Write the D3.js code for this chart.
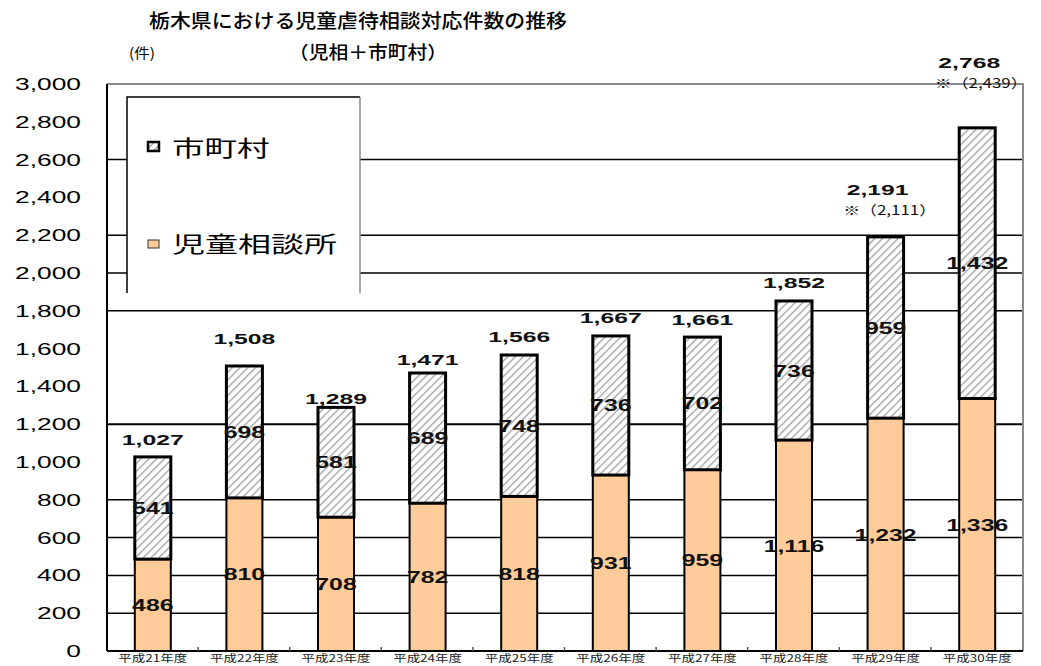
<!DOCTYPE html>
<html>
<head>
<meta charset="utf-8">
<script src="https://cdn.jsdelivr.net/npm/d3@7"></script>
<style>
  body { margin: 0; background: #fff; }
  svg { display: block; }
</style>
</head>
<body>
<div id="chart"></div>
<script>
// Fiscal years (Heisei 21-30)
const years = ["平成21年度", "平成22年度", "平成23年度", "平成24年度", "平成25年度",
               "平成26年度", "平成27年度", "平成28年度", "平成29年度", "平成30年度"];
// 児童相談所 (bottom segment)
const jisou = [486, 810, 708, 782, 818, 931, 959, 1116, 1232, 1336];
// 市町村 (top segment)
const shichoson = [541, 698, 581, 689, 748, 736, 702, 736, 959, 1432];
// totals shown above the bars
const totals = [1027, 1508, 1289, 1471, 1566, 1667, 1661, 1852, 2191, 2768];
// notes under some totals
const notes = ["", "", "", "", "", "", "", "", "※（2,111）", "※（2,439）"];
const yTicks = d3.range(0, 3001, 200);
const gridValues = [200, 400, 600, 800, 1200, 1800, 2000, 2200, 2600];

// gap (px) between bar top and total label, labels were hand placed in the original
const totalGap = [17, 27, 8, 13, 18, 18, 17, 18, 47, 65];

const width = 1041, height = 666;
const plot = { left: 107, right: 1023, top: 84, bottom: 651 };

const svg = d3.select("#chart").append("svg")
  .attr("width", width)
  .attr("height", height);

const defs = svg.append("defs");
const hatch = defs.append("pattern")
  .attr("id", "hatch")
  .attr("patternUnits", "userSpaceOnUse")
  .attr("width", 5.5)
  .attr("height", 5.5)
  .attr("patternTransform", "rotate(45)");
hatch.append("rect").attr("width", 5.5).attr("height", 5.5).attr("fill", "#fff");
hatch.append("line")
  .attr("x1", 0).attr("y1", 0).attr("x2", 0).attr("y2", 5.5)
  .attr("stroke", "#a0a0a0").attr("stroke-width", 2.6);

const x = d3.scaleBand()
  .domain(years)
  .range([plot.left, plot.right])
  .paddingInner(0.607)
  .paddingOuter(0.3035);

const y = d3.scaleLinear()
  .domain([0, 3000])
  .range([plot.bottom, plot.top]);

const numFont = "'Liberation Sans', Arial, sans-serif";
const jpFont = "'Noto Sans CJK JP', 'Noto Sans', sans-serif";
const fmt = d3.format(",");

// stretched text helper (the original is wider than the font)
function stext(g, tx, ty, sx, str) {
  return g.append("text")
    .attr("transform", `translate(${tx},${ty}) scale(${sx},1)`)
    .text(str);
}

// gridlines
svg.append("g")
  .selectAll("line")
  .data(gridValues)
  .join("line")
  .attr("x1", plot.left).attr("x2", plot.right)
  .attr("y1", d => y(d)).attr("y2", d => y(d))
  .attr("stroke", "#000")
  .attr("stroke-width", d => d === 1200 ? 2 : 1.5);

// top and right border (gray)
svg.append("path")
  .attr("d", `M${plot.left},${y(3000)}H${plot.right}V${plot.bottom}`)
  .attr("fill", "none")
  .attr("stroke", "#8a8a8a")
  .attr("stroke-width", 2);

// legend box
const legend = svg.append("g");
legend.append("rect")
  .attr("x", 127).attr("y", 97).attr("width", 233).attr("height", 196)
  .attr("fill", "#fff");
legend.append("path")
  .attr("d", "M127,293V97H360")
  .attr("fill", "none").attr("stroke", "#000").attr("stroke-width", 1.5);
legend.append("path")
  .attr("d", "M360,97V293")
  .attr("fill", "none").attr("stroke", "#8a8a8a").attr("stroke-width", 1.5);
legend.append("rect")
  .attr("x", 148).attr("y", 142).attr("width", 11).attr("height", 9)
  .attr("fill", "url(#hatch)").attr("stroke", "#000").attr("stroke-width", 2.5);
legend.append("rect")
  .attr("x", 148).attr("y", 240).attr("width", 11).attr("height", 8)
  .attr("fill", "#ffcc99").attr("stroke", "#333").attr("stroke-width", 1);
const legText = legend.append("g")
  .attr("font-family", jpFont)
  .attr("font-size", 22)
  .attr("fill", "#000");
stext(legText, 172, 156, 1.48, "市町村");
stext(legText, 172, 252, 1.5, "児童相談所");

// bars
const bars = svg.append("g");
bars.selectAll("rect.jisou")
  .data(years)
  .join("rect")
  .attr("class", "jisou")
  .attr("x", d => x(d))
  .attr("width", x.bandwidth())
  .attr("y", (d, i) => y(jisou[i]))
  .attr("height", (d, i) => y(0) - y(jisou[i]))
  .attr("fill", "#ffcc99")
  .attr("stroke", "#000")
  .attr("stroke-width", 2);

bars.selectAll("rect.shi")
  .data(years)
  .join("rect")
  .attr("class", "shi")
  .attr("x", d => x(d))
  .attr("width", x.bandwidth())
  .attr("y", (d, i) => y(jisou[i] + shichoson[i]))
  .attr("height", (d, i) => y(jisou[i]) - y(jisou[i] + shichoson[i]))
  .attr("fill", "url(#hatch)")
  .attr("stroke", "#000")
  .attr("stroke-width", 3);

// axes lines
svg.append("line")
  .attr("x1", plot.left).attr("x2", plot.left)
  .attr("y1", plot.top).attr("y2", plot.bottom)
  .attr("stroke", "#000").attr("stroke-width", 2);

const xAxis = svg.append("g")
  .attr("transform", `translate(0,${plot.bottom})`);
xAxis.append("line")
  .attr("x1", plot.left).attr("x2", plot.right)
  .attr("stroke", "#000").attr("stroke-width", 2);
xAxis.selectAll("line.tick")
  .data(years.slice(1))
  .join("line")
  .attr("class", "tick")
  .attr("x1", d => x(d) - x.step() * x.paddingInner() / 2 - 0.5)
  .attr("x2", d => x(d) - x.step() * x.paddingInner() / 2 - 0.5)
  .attr("y1", 0).attr("y2", -4)
  .attr("stroke", "#555").attr("stroke-width", 1.5);

// year labels, kept small so they fit above the bottom edge
const xLabels = xAxis.append("g")
  .attr("font-family", jpFont)
  .attr("font-size", 10)
  .attr("fill", "#222")
  .attr("text-anchor", "middle");
years.forEach(d => {
  stext(xLabels, x(d) + x.bandwidth() / 2, 11, 1.35, d);
});

// y tick labels
const yLabels = svg.append("g")
  .attr("font-family", numFont)
  .attr("font-size", 17)
  .attr("fill", "#000")
  .attr("text-anchor", "end");
yTicks.forEach(v => {
  stext(yLabels, 81, y(v) + 6, 1.55, fmt(v));
});

// segment labels
const segLabels = svg.append("g")
  .attr("font-family", numFont)
  .attr("font-size", 16)
  .attr("font-weight", "bold")
  .attr("fill", "#111")
  .attr("text-anchor", "middle");
years.forEach((d, i) => {
  const cx = x(d) + x.bandwidth() / 2;
  stext(segLabels, cx, y(jisou[i] / 2) + 6, 1.55, fmt(jisou[i]));
  stext(segLabels, cx, y(jisou[i] + shichoson[i] / 2) + 6, 1.55, fmt(shichoson[i]));
});

// total labels + notes
const totLabels = svg.append("g")
  .attr("font-family", numFont)
  .attr("font-size", 15)
  .attr("font-weight", "bold")
  .attr("fill", "#111")
  .attr("text-anchor", "middle");
years.forEach((d, i) => {
  const cx = x(d) + x.bandwidth() / 2;
  const cy = y(totals[i]) - totalGap[i];
  stext(totLabels, cx - (notes[i] ? 8 : 0), cy + 5, 1.65, fmt(totals[i]));
  if (notes[i]) {
    stext(totLabels, cx + 4, cy + 25, 1.3, notes[i])
      .attr("font-weight", "normal")
      .attr("font-size", 13)
      .attr("font-family", "'Noto Sans CJK JP', serif");
  }
});

// titles
const titles = svg.append("g")
  .attr("font-family", jpFont)
  .attr("font-weight", 500)
  .attr("fill", "#000")
  .attr("text-anchor", "middle");
stext(titles, 358, 28, 1.1, "栃木県における児童虐待相談対応件数の推移").attr("font-size", 19);
stext(titles, 368, 59, 1.1, "（児相＋市町村）").attr("font-size", 18);
stext(titles, 142, 58, 1.1, "(件)").attr("font-size", 14).attr("font-weight", 400);
</script>
</body>
</html>
